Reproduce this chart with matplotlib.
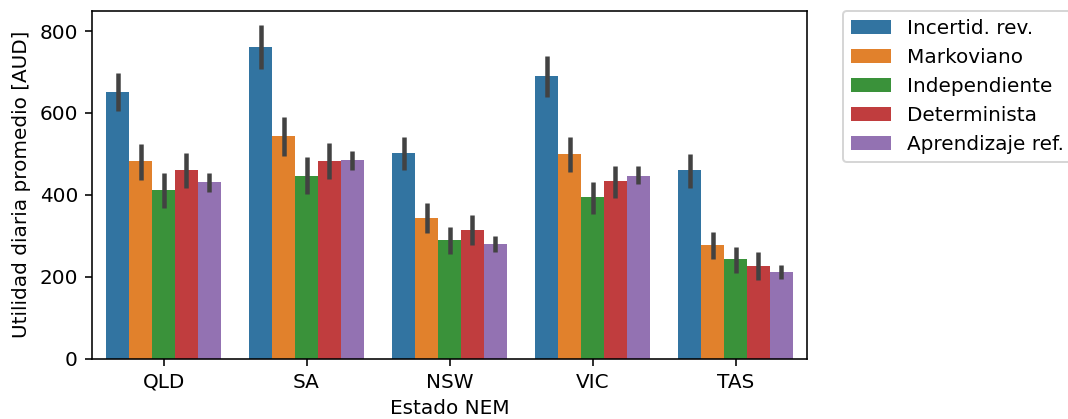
import matplotlib
matplotlib.use("Agg")
import matplotlib.pyplot as plt
import numpy as np

states = ["QLD", "SA", "NSW", "VIC", "TAS"]
series = ["Incertid. rev.", "Markoviano", "Independiente", "Determinista", "Aprendizaje ref."]
colors = ["#3274a1", "#e1812c", "#3a923a", "#c03d3e", "#9372b2"]

means = {
    "Incertid. rev.":   [650, 762, 501, 689, 460],
    "Markoviano":       [482, 543, 343, 499, 277],
    "Independiente":    [411, 447, 289, 394, 243],
    "Determinista":     [460, 482, 313, 433, 226],
    "Aprendizaje ref.": [430, 484, 279, 447, 211],
}
ci_low = {
    "Incertid. rev.":   [604, 707, 460, 639, 417],
    "Markoviano":       [437, 495, 307, 455, 242],
    "Independiente":    [368, 401, 255, 353, 209],
    "Determinista":     [417, 438, 277, 392, 191],
    "Aprendizaje ref.": [408, 460, 260, 426, 194],
}
ci_high = {
    "Incertid. rev.":   [697, 815, 541, 738, 500],
    "Markoviano":       [525, 590, 379, 541, 309],
    "Independiente":    [452, 492, 321, 432, 273],
    "Determinista":     [503, 526, 350, 471, 260],
    "Aprendizaje ref.": [454, 508, 300, 470, 229],
}

DPI = 144
fig = plt.figure(figsize=(1068/DPI, 419/DPI), dpi=DPI)
ax = fig.add_axes([92/1068, (419-358.5)/419, (807-92)/1068, (358.5-11)/419])

n = len(series)
width = 0.8 / n
x = np.arange(len(states))
for i, (s, c) in enumerate(zip(series, colors)):
    pos = x - 0.4 + width * (i + 0.5)
    ax.bar(pos, means[s], width=width, color=c, label=s)
    ax.vlines(pos, ci_low[s], ci_high[s], color="#424242", linewidth=2.25, zorder=3)

ax.set_xlim(-0.5, len(states) - 0.5)
ax.set_ylim(0, 849)
ax.set_xticks(x)
ax.set_xticklabels(states)
ax.set_yticks([0, 200, 400, 600, 800])
ax.tick_params(labelsize=10)
ax.set_xlabel("Estado NEM", fontsize=10)
ax.set_ylabel("Utilidad diaria promedio [AUD]", fontsize=10)
ax.legend(bbox_to_anchor=(1.05, 1), loc="upper left", borderaxespad=0, fontsize=10)

fig.savefig("out.png", dpi=DPI)
